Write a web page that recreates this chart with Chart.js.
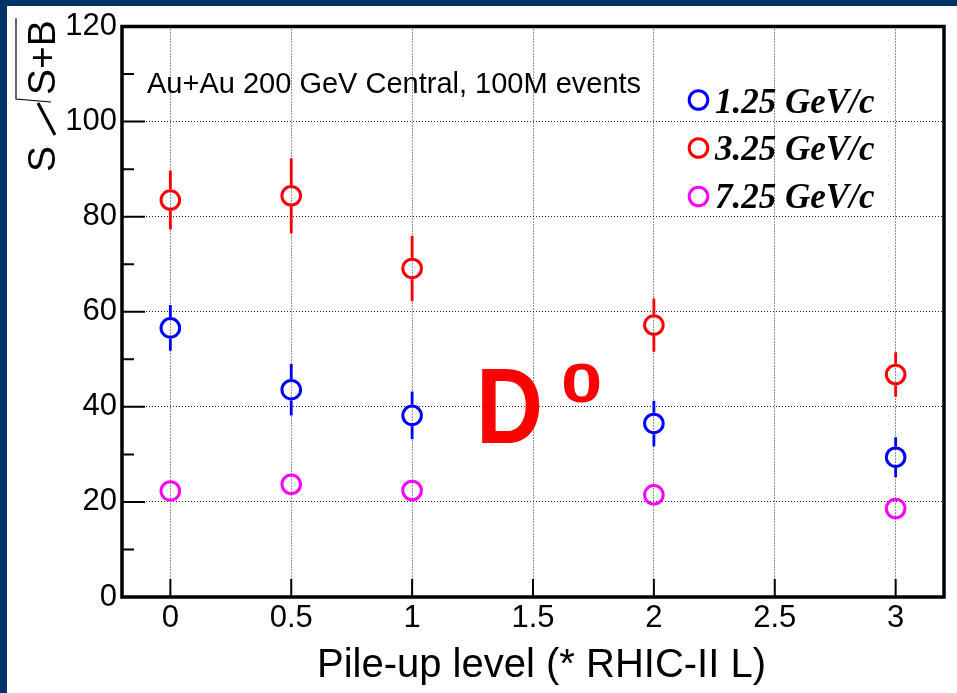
<!DOCTYPE html>
<html><head><meta charset="utf-8">
<script src="https://cdn.jsdelivr.net/npm/chart.js@4.4.1/dist/chart.umd.min.js"></script>
<style>
html,body{margin:0;padding:0;background:#fff;width:957px;height:693px;overflow:hidden;}
#navyL{position:absolute;left:0;top:0;width:7px;height:693px;background:#003466;}
#navyT{position:absolute;left:0;top:0;width:957px;height:6px;background:#003466;}
#wrap{position:absolute;left:7px;top:6px;width:950px;height:687px;}
</style></head><body>
<div id="navyL"></div><div id="navyT"></div>
<div id="wrap"><canvas id="c" width="950" height="687"></canvas></div>
<script>
// ---- data ----
const pileUp = [0, 0.5, 1, 2, 3];
const seriesLabels = ['1.25 GeV/c', '3.25 GeV/c', '7.25 GeV/c'];
const lowPtVals = [56.6, 43.6, 38.2, 36.5, 29.4];
const lowPtErrs = [4.8, 5.4, 5.0, 4.8, 4.2];
const midPtVals = [83.5, 84.4, 69.1, 57.2, 46.8];
const midPtErrs = [6.2, 7.9, 6.9, 5.6, 4.7];
const highPtVals = [22.3, 23.7, 22.4, 21.5, 18.6];
const highPtErrs = [1.5, 1.5, 1.5, 1.5, 1.5];
const yMinorTicks = [10, 30, 50, 70, 90, 110];
const annotationText = 'Au+Au 200 GeV Central, 100M events';
const xTitle = 'Pile-up level (* RHIC-II L)';

const colors = ['#0000ff', '#ff0000', '#ff00ff'];
const valsAll = [lowPtVals, midPtVals, highPtVals];
const errsAll = [lowPtErrs, midPtErrs, highPtErrs];
const OX = 7, OY = 6; // canvas offset on page
const SANS = '"Liberation Sans", Arial, sans-serif';

const datasets = valsAll.map((vals, k) => ({
  label: seriesLabels[k],
  data: pileUp.map((x, i) => ({x: x, y: vals[i]})),
  errs: errsAll[k],
  showLine: false,
  pointStyle: 'circle',
  pointRadius: 9.3,
  pointHoverRadius: 9.3,
  pointBorderWidth: 3,
  borderColor: colors[k],
  backgroundColor: 'rgba(0,0,0,0)'
}));

const decor = {
  id: 'decor',
  afterDatasetsDraw(chart) {
    const ctx = chart.ctx, xs = chart.scales.x, ys = chart.scales.y;
    ctx.save();
    chart.data.datasets.forEach((ds) => {
      ctx.strokeStyle = ds.borderColor;
      ctx.lineWidth = 2.8;
      ds.data.forEach((p, i) => {
        const px = xs.getPixelForValue(p.x);
        const py = ys.getPixelForValue(p.y);
        const top = ys.getPixelForValue(p.y + ds.errs[i]);
        const bot = ys.getPixelForValue(p.y - ds.errs[i]);
        const gap = ds.pointRadius + 1.5;
        ctx.beginPath();
        if (py - top > gap) { ctx.moveTo(px, py - gap); ctx.lineTo(px, top); }
        if (bot - py > gap) { ctx.moveTo(px, py + gap); ctx.lineTo(px, bot); }
        ctx.stroke();
      });
    });
    ctx.restore();
  },
  afterDraw(chart) {
    const ctx = chart.ctx, a = chart.chartArea, xs = chart.scales.x, ys = chart.scales.y;
    ctx.save();
    // inward tick marks
    ctx.strokeStyle = '#000'; ctx.lineWidth = 2;
    ctx.beginPath();
    ys.ticks.forEach(t => { const y = ys.getPixelForValue(t.value); ctx.moveTo(a.left, y); ctx.lineTo(a.left + 23, y); });
    yMinorTicks.forEach(v => { const y = ys.getPixelForValue(v); ctx.moveTo(a.left, y); ctx.lineTo(a.left + 12, y); });
    xs.ticks.forEach(t => { const x = xs.getPixelForValue(t.value); ctx.moveTo(x, a.bottom); ctx.lineTo(x, a.bottom - 18); });
    ctx.stroke();
    // frame
    ctx.lineWidth = 3.5;
    ctx.strokeRect(a.left, a.top, a.right - a.left, a.bottom - a.top);

    // annotation
    ctx.fillStyle = '#000';
    ctx.textBaseline = 'alphabetic';
    ctx.textAlign = 'left';
    ctx.font = '29px ' + SANS;
    ctx.fillText(annotationText, 147 - OX, 93 - OY);

    // legend
    const legY = [100, 148, 196.5];
    const legBase = [113, 160, 208];
    chart.data.datasets.forEach((ds, k) => {
      ctx.beginPath();
      ctx.strokeStyle = ds.borderColor; ctx.lineWidth = 3;
      ctx.arc(698.5 - OX, legY[k] - OY, 9.3, 0, Math.PI * 2);
      ctx.stroke();
      ctx.fillStyle = '#000';
      ctx.font = 'italic bold 35px "Liberation Serif", "Times New Roman", serif';
      ctx.fillText(ds.label, 715 - OX, legBase[k] - OY);
    });

    // D0 label
    ctx.fillStyle = '#ff0000';
    ctx.font = 'bold 108px ' + SANS;
    ctx.save();
    ctx.translate(476 - OX, 443 - OY); ctx.scale(0.86, 1);
    ctx.fillText('D', 0, 0);
    ctx.restore();
    ctx.font = 'bold 55px ' + SANS;
    ctx.save();
    ctx.translate(561 - OX, 402 - OY); ctx.scale(1.35, 1);
    ctx.fillText('0', 0, 0);
    ctx.restore();

    // x title
    ctx.fillStyle = '#000';
    ctx.font = '40px ' + SANS;
    ctx.textAlign = 'center';
    ctx.fillText(xTitle, 541.5 - OX, 677 - OY);

    // y title: S / sqrt(S+B), rotated
    ctx.save();
    ctx.translate(55 - OX, 172 - OY);
    ctx.rotate(-Math.PI / 2);
    ctx.textAlign = 'left';
    ctx.font = '39px ' + SANS;
    ctx.fillText('S', 0, 0);
    ctx.strokeStyle = '#000';
    ctx.lineWidth = 3;
    ctx.beginPath(); ctx.moveTo(37, 0); ctx.lineTo(69, -17); ctx.stroke();
    ctx.lineWidth = 1.2;
    const wSB = ctx.measureText('S+B').width;
    ctx.beginPath(); ctx.moveTo(70, -4); ctx.lineTo(73, -39); ctx.lineTo(77 + wSB + 2, -39); ctx.stroke();
    ctx.fillText('S+B', 77, 0);
    ctx.restore();

    ctx.restore();
  }
};

new Chart(document.getElementById('c'), {
  type: 'scatter',
  data: { datasets: datasets },
  options: {
    responsive: false,
    animation: false,
    devicePixelRatio: 1,
    layout: { padding: { left: 0, top: 16, right: 13, bottom: 0 } },
    plugins: { legend: { display: false }, tooltip: { enabled: false } },
    scales: {
      x: {
        type: 'linear', min: -0.2, max: 3.2,
        afterFit(s) { s.height = 96; },
        ticks: { stepSize: 0.5, includeBounds: false, color: '#000', padding: 6,
                 callback: (v) => String(+v.toFixed(1)),
                 font: { family: SANS, size: 31, lineHeight: 1.0 } },
        grid: { drawTicks: false, color: '#222', lineWidth: 1 },
        border: { display: false, dash: [1, 2] }
      },
      y: {
        min: 0, max: 120,
        afterFit(s) { s.width = 115; },
        ticks: { stepSize: 20, includeBounds: false, color: '#000', padding: 5,
                 callback: (v) => String(v),
                 font: { family: SANS, size: 31, lineHeight: 1.0 } },
        grid: { drawTicks: false, color: '#222', lineWidth: 1 },
        border: { display: false, dash: [1, 2] }
      }
    }
  },
  plugins: [decor]
});
</script>
</body></html>
